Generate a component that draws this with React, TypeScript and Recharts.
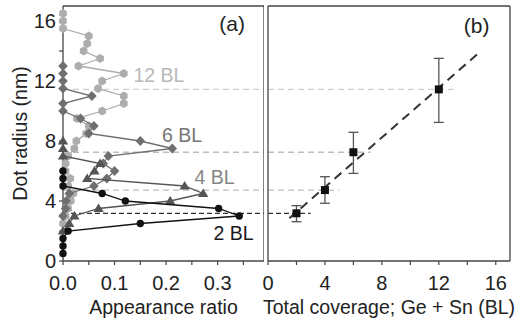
import React from 'react';
import { ScatterChart, Scatter, XAxis, YAxis, ReferenceLine, ReferenceDot, ErrorBar, Label } from 'recharts';

// ---- Panel (a): appearance ratio vs dot radius ----
const RADIUS_2BL = [0.5, 1.0, 1.5, 2.0, 2.5, 3.0, 3.5, 4.0, 4.5, 5.0, 5.5, 6.0];
const RATIO_2BL = [0, 0, 0, 0.01, 0.15, 0.342, 0.302, 0.121, 0.076, 0, 0, 0];

const RADIUS_4BL = [2.0, 2.5, 3.0, 3.5, 4.0, 4.5, 5.0, 5.5, 6.0, 6.5, 7.0, 7.5, 8.0];
const RATIO_4BL = [0, 0.012, 0.022, 0.069, 0.208, 0.272, 0.236, 0.047, 0.061, 0.072, 0, 0, 0];

const RADIUS_6BL = [3.0, 3.5, 4.0, 4.5, 5.0, 5.5, 6.0, 6.5, 7.0, 7.5, 8.0, 8.5, 9.0, 9.5, 10.0, 10.5, 11.0, 11.5, 12.0, 12.5, 13.0];
const RATIO_6BL = [0, 0.005, 0.006, 0.012, 0.06, 0.085, 0.1, 0.078, 0.088, 0.212, 0.15, 0.05, 0.06, 0.034, 0, 0, 0.056, 0, 0, 0, 0];

const RADIUS_12BL = [2.5, 3.0, 3.5, 4.0, 4.5, 5.0, 5.5, 6.0, 6.5, 7.0, 7.5, 8.0, 8.5, 9.0, 9.5, 10.0, 10.5, 11.0, 11.5, 12.0, 12.5, 13.0, 13.5, 14.0, 14.5, 15.0, 15.5, 16.0, 16.5];
const RATIO_12BL = [0, 0.005, 0.01, 0.015, 0.02, 0.01, 0.014, 0.005, 0.005, 0.01, 0.022, 0.026, 0.045, 0.05, 0.027, 0.076, 0.118, 0.118, 0.068, 0.076, 0.118, 0.03, 0.072, 0.04, 0.047, 0.05, 0, 0, 0];

// ---- Panel (b): mean radius vs total coverage ----
const COVERAGE = [2, 4, 6, 12];
const MEAN_RADIUS = [3.18, 4.73, 7.25, 11.44];
const ERR_LOW = [0.56, 0.88, 1.41, 2.2];
const ERR_HIGH = [0.51, 0.89, 1.33, 2.07];
const GUIDE_END = [3.0, 5.0, 7.2, 13.2];
const GUIDE_COLORS = ['#333333', '#bdbdbd', '#bdbdbd', '#cfcfcf'];
const FIT_X = [1.5, 14.9];
const FIT_Y = [2.85, 13.95];

// ---- Axes ----
const Y_TICKS = [0, 2, 4, 6, 8, 10, 12, 14, 16];
const X_TICKS_A = [0, 0.05, 0.1, 0.15, 0.2, 0.25, 0.3, 0.35];
const X_TICKS_B = [0, 2, 4, 6, 8, 10, 12, 14, 16];

const C2 = '#111111';
const C4 = '#555555';
const C6 = '#6f6f6f';
const C12 = '#adadad';
const AX = '#444444';
const TICK_FONT = 20;
const TITLE_FONT = 19.5;

const toPts = (xs: number[], ys: number[]) => ys.map((y, i) => ({ x: xs[i], y }));
const data2 = toPts(RATIO_2BL, RADIUS_2BL);
const data4 = toPts(RATIO_4BL, RADIUS_4BL);
const data6 = toPts(RATIO_6BL, RADIUS_6BL);
const data12 = toPts(RATIO_12BL, RADIUS_12BL);
const dataB = COVERAGE.map((c, i) => ({ x: c, y: MEAN_RADIUS[i], err: [ERR_LOW[i], ERR_HIGH[i]] }));

const circle = (fill: string) => (p: any) => <circle cx={p.cx} cy={p.cy} r={3.7} fill={fill} />;
const triangle = (fill: string) => (p: any) => (
  <polygon points={`${p.cx},${p.cy - 5} ${p.cx + 5.2},${p.cy + 3.6} ${p.cx - 5.2},${p.cy + 3.6}`} fill={fill} />
);
const diamond = (fill: string) => (p: any) => (
  <polygon points={`${p.cx},${p.cy - 5} ${p.cx + 4.8},${p.cy} ${p.cx},${p.cy + 5} ${p.cx - 4.8},${p.cy}`} fill={fill} />
);
const hexagon = (fill: string) => (p: any) => {
  const pts = [0, 1, 2, 3, 4, 5]
    .map((k) => {
      const a = (Math.PI / 3) * k + Math.PI / 6;
      return `${p.cx + 4.4 * Math.cos(a)},${p.cy + 4.4 * Math.sin(a)}`;
    })
    .join(' ');
  return <polygon points={pts} fill={fill} />;
};
const square = (fill: string) => (p: any) => <rect x={p.cx - 4} y={p.cy - 4} width={8} height={8} fill={fill} />;

const yFmt = (v: number) => (v % 4 === 0 ? String(v) : '');
const xFmtA = (v: number) => (Math.round(v * 100) % 10 === 0 ? v.toFixed(1) : '');
const xFmtB = (v: number) => (v % 4 === 0 ? String(v) : '');

const makeXTick = (fmt: (v: number) => string) => (p: any) => {
  const s = fmt(p.payload.value);
  if (!s) return <g />;
  return (
    <text x={p.x} y={p.y} dy={25} textAnchor="middle" fontSize={TICK_FONT} fill="#222">
      {s}
    </text>
  );
};
const XTickA = makeXTick(xFmtA);
const XTickB = makeXTick(xFmtB);
const YTick = (p: any) => {
  const s = yFmt(p.payload.value);
  if (!s) return <g />;
  return (
    <text x={p.x} y={p.y} dy={7} textAnchor="end" fontSize={TICK_FONT} fill="#222">
      {s}
    </text>
  );
};

const axisLine = { stroke: AX, strokeWidth: 1.3 };
const tickLine = { stroke: AX, strokeWidth: 1.2 };

export default function App() {
  return (
    <div
      style={{
        position: 'absolute',
        left: 0,
        top: 0,
        width: 518,
        height: 320,
        background: '#fff',
        fontFamily: '"Liberation Sans", Arial, sans-serif',
      }}
    >
      <div style={{ position: 'absolute', left: 0, top: 0 }}>
        <ScatterChart width={264} height={320} margin={{ top: 6, right: 0, bottom: 0, left: 0 }}>
          <XAxis
            type="number"
            dataKey="x"
            domain={[0, 0.39]}
            ticks={X_TICKS_A}
            interval={0}
            height={59}
            tickSize={4}
            tickMargin={0}
            axisLine={axisLine}
            tickLine={tickLine}
            tick={XTickA}
          >
            <Label value="Appearance ratio" position="insideBottom" offset={6} fontSize={TITLE_FONT} fill="#222" />
          </XAxis>
          <XAxis xAxisId="t" type="number" orientation="top" mirror height={1} domain={[0, 0.39]} tick={false} tickLine={false} axisLine={axisLine} />
          <YAxis
            type="number"
            dataKey="y"
            domain={[0, 17]}
            ticks={Y_TICKS}
            interval={0}
            width={63}
            tickSize={4}
            tickMargin={3}
            axisLine={axisLine}
            tickLine={tickLine}
            tick={YTick}
          >
            <Label
              value="Dot radius (nm)"
              angle={-90}
              position="insideLeft"
              offset={20}
              fontSize={TITLE_FONT}
              fill="#222"
              style={{ textAnchor: 'middle' }}
            />
          </YAxis>
          <YAxis yAxisId="r" type="number" orientation="right" mirror width={1} domain={[0, 17]} ticks={Y_TICKS} tick={false} tickSize={4} axisLine={axisLine} tickLine={tickLine} />

          {MEAN_RADIUS.map((r, i) => (
            <ReferenceLine
              key={'ga' + i}
              y={r}
              stroke={GUIDE_COLORS[i]}
              strokeWidth={1.3}
              strokeDasharray={i === 0 ? '5 3' : '6 4'}
            />
          ))}

          <Scatter data={data12} shape={hexagon(C12)} line={{ stroke: C12, strokeWidth: 1.3 }} lineType="joint" isAnimationActive={false} />
          <Scatter data={data6} shape={diamond(C6)} line={{ stroke: C6, strokeWidth: 1.3 }} lineType="joint" isAnimationActive={false} />
          <Scatter data={data4} shape={triangle(C4)} line={{ stroke: C4, strokeWidth: 1.3 }} lineType="joint" isAnimationActive={false} />
          <Scatter data={data2} shape={circle(C2)} line={{ stroke: C2, strokeWidth: 1.3 }} lineType="joint" isAnimationActive={false} />

          <ReferenceDot x={0.328} y={15.85} r={0} stroke="none" fill="none">
            <Label value="(a)" position="center" fontSize={21} fill="#222" />
          </ReferenceDot>
          <ReferenceDot x={0.186} y={12.4} r={0} stroke="none" fill="none">
            <Label value="12 BL" position="center" fontSize={19.5} fill="#b8b8b8" />
          </ReferenceDot>
          <ReferenceDot x={0.231} y={8.4} r={0} stroke="none" fill="none">
            <Label value="6 BL" position="center" fontSize={19.5} fill="#757575" />
          </ReferenceDot>
          <ReferenceDot x={0.294} y={5.57} r={0} stroke="none" fill="none">
            <Label value="4 BL" position="center" fontSize={19.5} fill="#858585" />
          </ReferenceDot>
          <ReferenceDot x={0.331} y={1.84} r={0} stroke="none" fill="none">
            <Label value="2 BL" position="center" fontSize={19.5} fill="#1a1a1a" />
          </ReferenceDot>
        </ScatterChart>
      </div>

      <div style={{ position: 'absolute', left: 250, top: 0 }}>
        <ScatterChart width={268} height={320} margin={{ top: 6, right: 8, bottom: 0, left: 17 }}>
          <XAxis
            type="number"
            dataKey="x"
            domain={[0, 17]}
            ticks={X_TICKS_B}
            interval={0}
            height={59}
            tickSize={4}
            tickMargin={0}
            axisLine={axisLine}
            tickLine={tickLine}
            tick={XTickB}
          >
            <Label value="Total coverage; Ge + Sn (BL)" position="insideBottom" offset={6} fontSize={TITLE_FONT} fill="#222" />
          </XAxis>
          <XAxis xAxisId="t" type="number" orientation="top" mirror height={1} domain={[0, 17]} tick={false} tickLine={false} axisLine={axisLine} />
          <YAxis type="number" dataKey="y" domain={[0, 17]} width={1} tick={false} tickLine={false} axisLine={axisLine} />
          <YAxis yAxisId="r" type="number" orientation="right" mirror width={1} domain={[0, 17]} ticks={Y_TICKS} tick={false} tickSize={4} axisLine={axisLine} tickLine={tickLine} />

          {MEAN_RADIUS.map((r, i) => (
            <ReferenceLine
              key={'gb' + i}
              segment={[{ x: 0, y: r }, { x: GUIDE_END[i], y: r }]}
              stroke={GUIDE_COLORS[i]}
              strokeWidth={1.3}
              strokeDasharray={i === 0 ? '5 3' : '6 4'}
            />
          ))}
          <ReferenceLine
            segment={[{ x: FIT_X[0], y: FIT_Y[0] }, { x: FIT_X[1], y: FIT_Y[1] }]}
            stroke="#333"
            strokeWidth={2}
            strokeDasharray="9 6"
          />

          <Scatter data={dataB} shape={square('#111')} isAnimationActive={false}>
            <ErrorBar dataKey="err" direction="y" width={5} stroke="#555" strokeWidth={1.3} />
          </Scatter>

          <ReferenceDot x={14.65} y={15.7} r={0} stroke="none" fill="none">
            <Label value="(b)" position="center" fontSize={21} fill="#222" />
          </ReferenceDot>
        </ScatterChart>
      </div>
    </div>
  );
}
